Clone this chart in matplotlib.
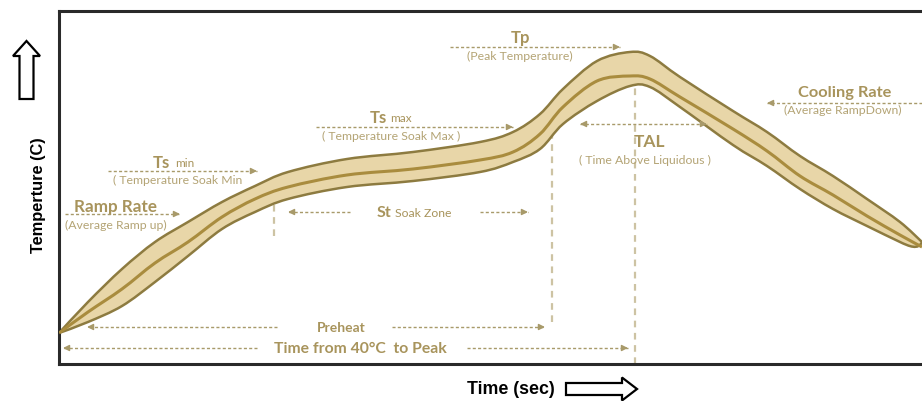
import matplotlib
matplotlib.use("Agg")
import matplotlib.pyplot as plt
from matplotlib.patches import FancyArrow, PathPatch
from matplotlib.path import Path

# profile data (time in arbitrary units, temperature in arbitrary units)
time = [0, 29, 63, 96, 129, 163, 196, 229, 288, 354, 421, 454, 481, 504,
        538, 571, 591, 621, 674, 708, 741, 774, 808, 841, 863]
temp_center = [31, 52, 75, 101, 122, 147, 165, 177, 189, 195, 204, 212, 230,
               257, 283, 288, 285, 267, 235, 213, 188, 169, 148, 129, 117]
temp_upper = [31, 62, 95, 122, 142, 162, 178, 192, 205, 212, 222, 232, 250,
              275, 303, 312, 308, 287, 253, 232, 208, 188, 165, 142, 122]
temp_lower = [31, 42, 58, 82, 108, 135, 152, 165, 177, 183, 192, 202, 215,
              240, 263, 278, 277, 257, 219, 198, 175, 155, 138, 122, 112]

# zone markers on the time axis
t_soak_start = 215
t_soak_end = 493
t_peak = 576

head_col = '#a8945c'
sub_col = '#b4a475'
dash_col = '#a89a6a'
vline_col = '#cdc3a3'
fam = ['Lato', 'DejaVu Sans']


def smooth(xs, ys):
    # catmull-rom through the points, written as cubic bezier segments
    pts = list(zip(xs, ys))
    verts = [pts[0]]
    codes = [Path.MOVETO]
    n = len(pts)
    for i in range(n - 1):
        p0 = pts[max(i - 1, 0)]
        p1 = pts[i]
        p2 = pts[i + 1]
        p3 = pts[min(i + 2, n - 1)]
        c1 = (p1[0] + (p2[0] - p0[0]) / 6, p1[1] + (p2[1] - p0[1]) / 6)
        c2 = (p2[0] - (p3[0] - p1[0]) / 6, p2[1] - (p3[1] - p1[1]) / 6)
        verts += [c1, c2, p2]
        codes += [Path.CURVE4] * 3
    return verts, codes


fig = plt.figure(figsize=(9.22, 4.02), dpi=100)
ax = fig.add_axes([59 / 922, 37 / 402, 863 / 922, 353 / 402])
ax.set_xlim(0, 863)
ax.set_ylim(0, 353)
ax.set_xticks([])
ax.set_yticks([])
ax.spines['right'].set_visible(False)
for s in ['left', 'top', 'bottom']:
    ax.spines[s].set_linewidth(2.2)
    ax.spines[s].set_color('#2a2a2a')

# the ribbon
vu, cu = smooth(time, temp_upper)
vl, cl = smooth(time[::-1], temp_lower[::-1])
band = Path(vu + vl[1:] + [vu[0]], cu + cl[1:] + [Path.CLOSEPOLY])
ax.add_patch(PathPatch(band, fc='#e8d6a8', ec='#8d7b40', lw=1.8, zorder=2))
vc, cc = smooth(time, temp_center)
ax.add_patch(PathPatch(Path(vc, cc), fc='none', ec='#a98c3e', lw=2.2, zorder=3))


def dashed_arrow(x0, x1, y, heads=('end',)):
    ax.plot([x0, x1], [y, y], color=dash_col, lw=1, ls=(0, (2.2, 1.6)), zorder=4)
    d = 1 if x1 > x0 else -1
    if 'end' in heads:
        ax.annotate('', xy=(x1, y), xytext=(x1 - d * 6, y),
                    arrowprops=dict(arrowstyle='-|>', color=dash_col, lw=1,
                                    mutation_scale=9, shrinkA=0, shrinkB=0), zorder=4)
    if 'start' in heads:
        ax.annotate('', xy=(x0, y), xytext=(x0 + d * 6, y),
                    arrowprops=dict(arrowstyle='-|>', color=dash_col, lw=1,
                                    mutation_scale=9, shrinkA=0, shrinkB=0), zorder=4)


def vdash(x, y0, y1):
    ax.plot([x, x], [y0, y1], color=vline_col, lw=1.6, ls=(0, (3, 2.5)), zorder=1)


vdash(t_soak_start, 128, 165)
vdash(t_soak_end, 42, 230)
vdash(t_peak, 0, 295)

sub = dict(color=sub_col, fontsize=8.8, family=fam, ha='center', va='center')

# Tp
ax.text(461, 327, 'Tp', color=head_col, fontsize=12, fontweight='bold', family=fam, ha='center', va='center')
dashed_arrow(391, 561, 317)
ax.text(461, 309, '(Peak Temperature)', **sub)

# Ts max
ax.text(311, 247, 'Ts', color=head_col, fontsize=12, fontweight='bold', family=fam, ha='left', va='center')
ax.text(331, 246, 'max', color=head_col, fontsize=8.5, family=fam, ha='left', va='center')
dashed_arrow(257, 454, 237)
ax.text(332, 229, '( Temperature Soak Max )', **sub)

# Ts min
ax.text(94, 202, 'Ts', color=head_col, fontsize=12, fontweight='bold', family=fam, ha='left', va='center')
ax.text(116, 201, 'min', color=head_col, fontsize=8.5, family=fam, ha='left', va='center')
dashed_arrow(49, 198, 193)
ax.text(119, 185, '( Temperature Soak Min', **sub)

# Ramp rate
ax.text(56, 158, 'Ramp Rate', color=head_col, fontsize=12.3, fontweight='bold', family=fam, ha='center', va='center')
dashed_arrow(6, 121, 150)
ax.text(57, 140, '(Average Ramp up)', **sub)

# Soak zone
ax.text(318, 152, 'St', color=head_col, fontsize=11.5, fontweight='bold', family=fam, ha='left', va='center')
ax.text(336, 151, 'Soak Zone', color=head_col, fontsize=8.8, family=fam, ha='left', va='center')
dashed_arrow(291, 229, 152)
dashed_arrow(421, 469, 152)

# TAL
ax.text(590, 223, 'TAL', color=head_col, fontsize=12.5, fontweight='bold', family=fam, ha='center', va='center')
dashed_arrow(521, 648, 240, heads=('start', 'end'))
ax.text(586, 205, '( Time Above Liquidous )', **sub)

# Cooling rate
ax.text(786, 272, 'Cooling Rate', color=head_col, fontsize=11.8, fontweight='bold', family=fam, ha='center', va='center')
dashed_arrow(863, 708, 261)
ax.text(784, 255, '(Average RampDown)', **sub)

# Preheat
ax.text(282, 37, 'Preheat', color=head_col, fontsize=10, fontweight='bold', family=fam, ha='center', va='center')
dashed_arrow(218, 28, 37)
dashed_arrow(333, 486, 37)

# Time from 40C to peak
ax.text(301, 16, 'Time from 40°C  to Peak', color=head_col, fontsize=11.3, fontweight='bold', family=fam,
        ha='center', va='center')
dashed_arrow(198, 4, 16)
dashed_arrow(408, 569, 16)

# overlay for the axis labels and block arrows
ov = fig.add_axes([0, 0, 1, 1])
ov.set_xlim(0, 922)
ov.set_ylim(402, 0)
ov.axis('off')
ov.patch.set_visible(False)

ov.text(38, 195, 'Temperture (C)', rotation=90, fontsize=11.8, fontweight='bold',
        family=['Liberation Sans', 'DejaVu Sans'], ha='center', va='center')
ov.add_patch(FancyArrow(26.5, 100, 0, -58, width=14, head_width=27, head_length=15,
                        length_includes_head=True, fc='white', ec='black', lw=1.6))
ov.text(511, 390, 'Time (sec)', fontsize=12.8, fontweight='bold',
        family=['Liberation Sans', 'DejaVu Sans'], ha='center', va='center')
ov.add_patch(FancyArrow(566, 390, 71, 0, width=12, head_width=23, head_length=15,
                        length_includes_head=True, fc='white', ec='black', lw=1.6))

fig.savefig('out.png', dpi=100)
